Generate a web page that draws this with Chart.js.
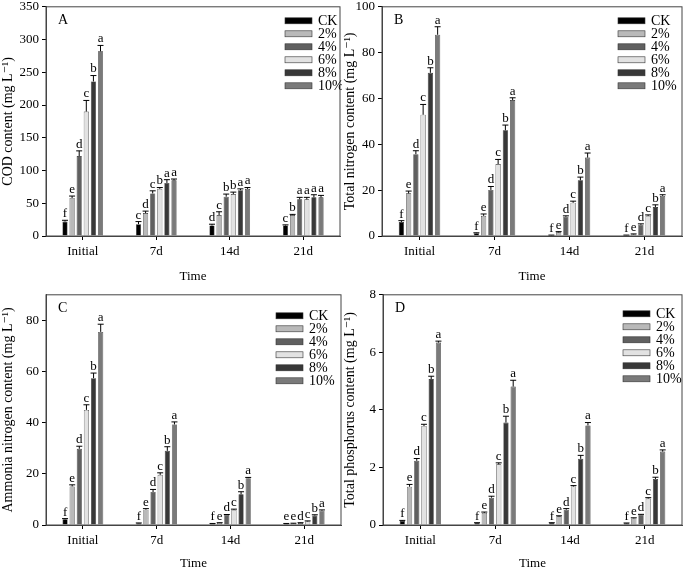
<!DOCTYPE html>
<html lang="en">
<head>
<meta charset="UTF-8">
<title>Water quality</title>
<script src="https://cdn.jsdelivr.net/npm/chart.js@4.4.1/dist/chart.umd.min.js"></script>
<style>
  body { margin: 0; background: #fff; overflow: hidden; }
  .wrap { position: relative; width: 685px; height: 573px; overflow: hidden; }
  .panel { position: absolute; }
</style>
</head>
<body>
<div class="wrap">
  <div class="panel" style="left:0;top:-4px;width:342px;height:290px"><canvas id="chartA"></canvas></div>
  <div class="panel" style="left:342px;top:-4px;width:343px;height:290px"><canvas id="chartB"></canvas></div>
  <div class="panel" style="left:0;top:284px;width:342px;height:289px"><canvas id="chartC"></canvas></div>
  <div class="panel" style="left:342px;top:284px;width:343px;height:289px"><canvas id="chartD"></canvas></div>
</div>
<script>
// data, one row per treatment: [Initial, 7d, 14d, 21d]
const times = ["Initial", "7d", "14d", "21d"];
const treatments = ["CK", "2%", "4%", "6%", "8%", "10%"];
const barColors = ["#000000", "#b9b9b9", "#606060", "#e2e2e2", "#383838", "#7a7a7a"];

const codMean = [[22, 18, 16, 16], [58, 35, 32, 32], [122, 65, 60, 56], [190, 72, 64, 56], [236, 81, 70, 59], [282, 85, 72, 59]];
const codErr = [[2, 4, 2, 1], [3, 3, 5, 1], [8, 4, 4, 3], [17, 2, 3, 3], [9, 5, 2, 4], [9, 2, 2, 3]];
const codLetters = [["f", "c", "d", "c"], ["e", "d", "c", "b"], ["d", "c", "b", "a"], ["c", "b", "b", "a"], ["b", "a", "a", "a"], ["a", "a", "a", "a"]];

const tnMean = [[6.1, 1.2, 0.3, 0.3], [18.6, 8.8, 1.6, 0.7], [35.7, 20.1, 8.4, 4.9], [52.9, 31.4, 14.5, 8.8], [71.2, 46.1, 24.3, 12.6], [87.8, 59.3, 34.2, 17.5]];
const tnErr = [[0.6, 0.2, 0.1, 0.1], [1, 0.8, 0.3, 0.2], [1.5, 1.5, 0.4, 0.4], [4.5, 2, 0.7, 0.4], [2.2, 2.3, 1.4, 1], [3.5, 1, 2, 0.5]];
const tnLetters = [["f", "f", "f", "f"], ["e", "e", "e", "e"], ["d", "d", "d", "d"], ["c", "c", "c", "c"], ["b", "b", "b", "b"], ["a", "a", "a", "a"]];

const nhMean = [[2.2, 0.7, 0.5, 0.5], [15.1, 6.0, 0.8, 0.6], [29.8, 12.9, 3.9, 0.8], [45, 19.6, 5.9, 1.4], [57.4, 29, 12, 3.7], [75.5, 39.3, 18.3, 5.6]];
const nhErr = [[0.3, 0.1, 0.1, 0.1], [0.6, 0.4, 0.1, 0.1], [1, 1, 0.2, 0.1], [2, 0.8, 0.3, 0.2], [2, 1.6, 1, 0.3], [3, 1, 0.3, 0.3]];
const nhLetters = [["f", "f", "f", "e"], ["e", "e", "e", "e"], ["d", "d", "d", "d"], ["c", "c", "c", "c"], ["b", "b", "b", "b"], ["a", "a", "a", "a"]];

const tpMean = [[0.14, 0.07, 0.07, 0.06], [1.33, 0.42, 0.30, 0.23], [2.23, 0.95, 0.53, 0.35], [3.44, 2.11, 1.34, 0.92], [5.07, 3.56, 2.30, 1.60], [6.34, 4.81, 3.46, 2.55]];
const tpErr = [[0.02, 0.01, 0.01, 0.01], [0.08, 0.03, 0.02, 0.02], [0.08, 0.05, 0.04, 0.02], [0.06, 0.05, 0.03, 0.03], [0.1, 0.22, 0.12, 0.06], [0.05, 0.22, 0.1, 0.06]];
const tpLetters = [["f", "f", "f", "f"], ["e", "e", "e", "e"], ["d", "d", "d", "d"], ["c", "c", "c", "c"], ["b", "b", "b", "b"], ["a", "a", "a", "a"]];

const serif = "'Liberation Serif', 'DejaVu Serif', serif";

// error bars, significance letters, frame, panel tag and legend
const extras = {
  id: "extras",
  afterDatasetsDraw(chart, args, opts) {
    const ctx = chart.ctx;
    const y = chart.scales.y;
    const area = chart.chartArea;
    ctx.save();
    ctx.strokeStyle = "#000";
    ctx.lineWidth = 1;
    ctx.fillStyle = "#000";
    ctx.font = "13px " + serif;
    ctx.textAlign = "center";
    ctx.textBaseline = "bottom";
    chart.data.datasets.forEach(function (ds, i) {
      const meta = chart.getDatasetMeta(i);
      meta.data.forEach(function (bar, j) {
        const top = y.getPixelForValue(ds.data[j] + ds.err[j]);
        ctx.beginPath();
        ctx.moveTo(bar.x, bar.y);
        ctx.lineTo(bar.x, top);
        ctx.moveTo(bar.x - 3, top);
        ctx.lineTo(bar.x + 3, top);
        ctx.stroke();
        ctx.fillText(ds.letters[j], bar.x, top);
      });
    });
    // frame
    ctx.strokeStyle = "#444";
    ctx.strokeRect(area.left, area.top, area.right - area.left, area.bottom - area.top);
    // panel tag
    ctx.font = "14px " + serif;
    ctx.textAlign = "left";
    ctx.textBaseline = "middle";
    ctx.fillText(opts.tag, area.left + 12, area.top + 14);
    // legend
    const lx = area.right - opts.legendRight;
    let ly = area.top + opts.legendTop;
    chart.data.datasets.forEach(function (ds) {
      ctx.fillStyle = ds.backgroundColor;
      ctx.fillRect(lx, ly - 3, 27, 6);
      ctx.strokeStyle = "#333";
      ctx.lineWidth = 0.6;
      ctx.strokeRect(lx, ly - 3, 27, 6);
      ctx.fillStyle = "#000";
      ctx.fillText(ds.label, lx + 33, ly + 1);
      ly += 13;
    });
    ctx.restore();
  }
};

function makePanel(id, mean, err, letters, opt) {
  const datasets = treatments.map(function (t, i) {
    return {
      label: t,
      data: mean[i],
      err: err[i],
      letters: letters[i],
      backgroundColor: barColors[i],
      borderColor: "#222",
      borderWidth: 0.6,
      barPercentage: 0.72,
      categoryPercentage: 0.58
    };
  });
  new Chart(document.getElementById(id), {
    type: "bar",
    data: { labels: times, datasets: datasets },
    plugins: [extras],
    options: {
      responsive: true,
      maintainAspectRatio: false,
      animation: false,
      layout: { padding: opt.padding },
      plugins: {
        legend: { display: false },
        tooltip: { enabled: false },
        extras: { tag: opt.tag, legendRight: opt.legendRight, legendTop: opt.legendTop }
      },
      scales: {
        x: {
          grid: { display: true, drawOnChartArea: false, offset: false, tickLength: 4, color: "#000" },
          border: { display: true, color: "#444" },
          ticks: { color: "#000", font: { family: serif, size: 13 }, padding: 4 },
          title: { display: true, text: "Time", color: "#000", font: { family: serif, size: 13 }, padding: { top: 6, bottom: 2 } },
          afterFit: function (s) { s.height = opt.xHeight; }
        },
        y: {
          min: 0,
          max: opt.max,
          afterBuildTicks: function (s) {
            s.ticks = s.ticks.filter(function (t) { return t.value <= opt.lastTick; });
          },
          ticks: { stepSize: opt.step, color: "#000", font: { family: serif, size: 13 }, padding: 3 },
          grid: { display: true, drawOnChartArea: false, tickLength: 4, color: "#000" },
          border: { display: true, color: "#444" },
          title: { display: true, text: opt.title, color: "#000", font: { family: serif, size: 14 }, padding: { top: 0, bottom: 2 } },
          afterFit: function (s) { s.width = opt.yWidth; }
        }
      }
    }
  });
}

makePanel("chartA", codMean, codErr, codLetters, {
  tag: "A", title: "COD content (mg L\u207B\u00B9)", max: 350, lastTick: 350, step: 50,
  yWidth: 46, xHeight: 50, padding: { top: 0, right: 2, left: 0, bottom: 0 }, legendRight: 55, legendTop: 14
});
makePanel("chartB", tnMean, tnErr, tnLetters, {
  tag: "B", title: "Total nitrogen content (mg L\u207B\u00B9)", max: 100, lastTick: 100, step: 20,
  yWidth: 40, xHeight: 50, padding: { top: 0, right: 3, left: 0, bottom: 0 }, legendRight: 64, legendTop: 14
});
makePanel("chartC", nhMean, nhErr, nhLetters, {
  tag: "C", title: "Ammonia nitrogen content (mg L\u207B\u00B9)", max: 90, lastTick: 80, step: 20,
  yWidth: 46, xHeight: 48, padding: { top: 9, right: 1, left: 0, bottom: 0 }, legendRight: 65, legendTop: 21
});
makePanel("chartD", tpMean, tpErr, tpLetters, {
  tag: "D", title: "Total phosphorus content (mg L\u207B\u00B9)", max: 8, lastTick: 8, step: 2,
  yWidth: 41, xHeight: 48, padding: { top: 9, right: 3, left: 0, bottom: 0 }, legendRight: 59, legendTop: 19
});
</script>
</body>
</html>
